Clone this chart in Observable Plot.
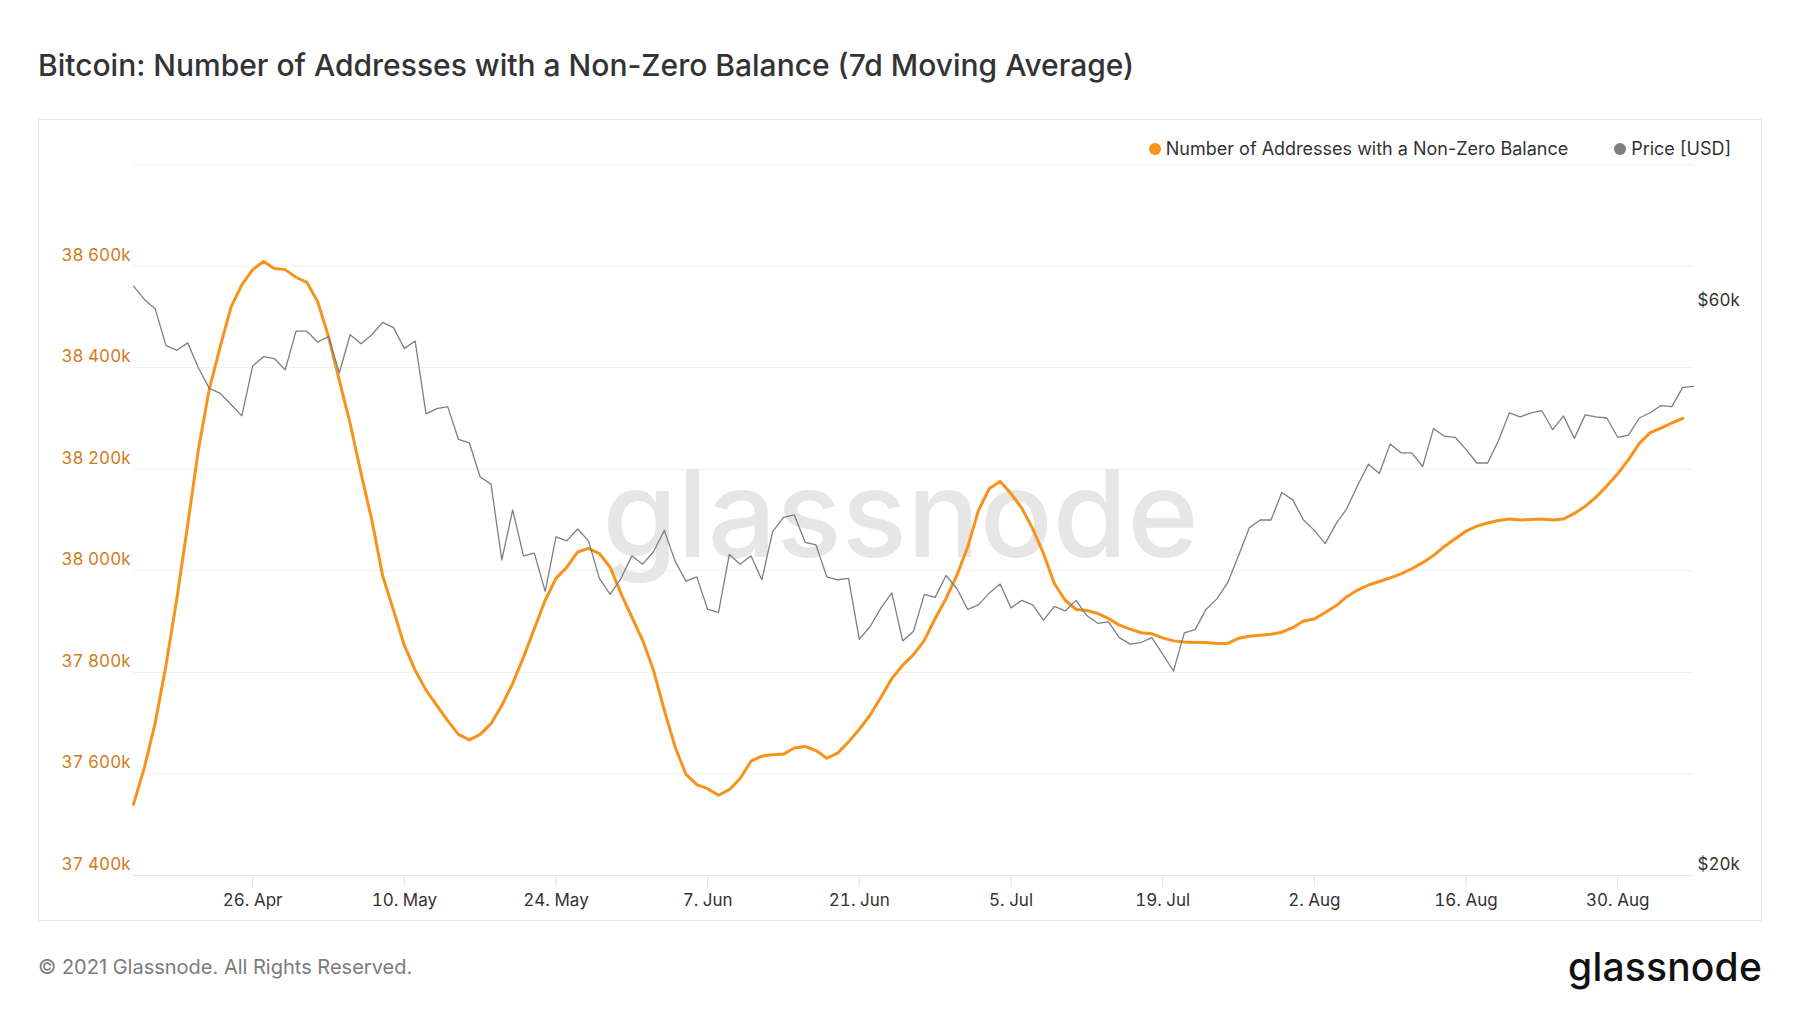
<!DOCTYPE html>
<html>
<head>
<meta charset="utf-8">
<script src="https://cdn.jsdelivr.net/npm/d3@7"></script>
<script src="https://cdn.jsdelivr.net/npm/@observablehq/plot@0.6"></script>
<style>
  html, body { margin: 0; padding: 0; background: #fff; }
  body { width: 1800px; height: 1013px; position: relative; overflow: hidden; font-family: Inter, "Noto Sans", sans-serif; }
  #title { position: absolute; left: 38px; top: 45px; font-size: 30px; line-height: 40px; color: #333; font-weight: 500; white-space: nowrap; }
  #box { position: absolute; left: 38px; top: 119px; width: 1722px; height: 800px; border: 1px solid #e6e6e6; }
  #chart { position: absolute; left: 38px; top: 119px; }
  #legend { position: absolute; right: 69px; top: 137px; font-size: 18px; line-height: 23px; color: #333; display: flex; gap: 46px; white-space: nowrap; }
  #legend .item { display: flex; align-items: center; }
  #legend .dot { width: 12px; height: 12px; border-radius: 50%; margin-right: 5px; display: inline-block; }
  #footer { position: absolute; left: 38px; top: 954px; font-size: 20px; line-height: 26px; color: #7b7b7b; white-space: nowrap; }
  #logo { position: absolute; right: 38px; top: 943px; font-size: 39px; line-height: 48px; color: #111; font-weight: 500; letter-spacing: 0.2px; }
</style>
</head>
<body>
<div id="title">Bitcoin: Number of Addresses with a Non-Zero Balance (7d Moving Average)</div>
<div id="box"></div>
<div id="chart"></div>
<div id="legend"></div>
<div id="footer">© 2021 Glassnode. All Rights Reserved.</div>
<div id="logo">glassnode</div>
<script>
// ---------------- data ----------------
const startDay = "2021-04-15";
const endDay = "2021-09-06";

// Number of addresses with a non-zero balance (7d MA), thousands, daily from 15 Apr 2021 to 5 Sep 2021
const addresses = [
  37540, 37612, 37700, 37814, 37945, 38090, 38240, 38358, 38441, 38519,
  38563, 38593, 38609, 38595, 38593, 38578, 38568, 38530, 38461, 38375,
  38290, 38192, 38100, 37990, 37922, 37853, 37804, 37765, 37735, 37705,
  37678, 37667, 37678, 37699, 37735, 37778, 37830, 37886, 37942, 37985,
  38007, 38037, 38044, 38034, 38007, 37955, 37909, 37863, 37804, 37725,
  37653, 37599, 37579, 37571, 37558, 37569, 37591, 37625, 37635, 37638,
  37639, 37651, 37654, 37646, 37631, 37641, 37663, 37688, 37716, 37751,
  37788, 37814, 37835, 37863, 37906, 37945, 37991, 38047, 38119, 38162,
  38176, 38152, 38123, 38083, 38034, 37975, 37942, 37924, 37922, 37916,
  37906, 37893, 37885, 37878, 37876, 37868, 37862, 37860, 37859, 37859,
  37857, 37857, 37867, 37871, 37873, 37875, 37879, 37888, 37901, 37905,
  37918, 37931, 37949, 37962, 37972, 37979, 37986, 37994, 38004, 38016,
  38030, 38048, 38063, 38078, 38088, 38094, 38099, 38102, 38100, 38101,
  38102, 38100, 38102, 38113, 38127, 38145, 38167, 38191, 38219, 38251,
  38272, 38281, 38291, 38300
];

// Price [USD], thousands, daily from 15 Apr 2021 to 6 Sep 2021
const price = [
  63.1, 61.5, 60.4, 56.2, 55.7, 56.5, 53.8, 51.7, 51.2, 50.1, 49.0, 54.0, 55.0, 54.8, 53.6, 57.8,
  57.8, 56.6, 57.2, 53.3, 57.4, 56.4, 57.4, 58.8, 58.2, 55.9, 56.7, 49.2, 49.7, 49.9, 46.8, 46.5,
  43.5, 42.9, 37.0, 40.8, 37.3, 37.5, 34.8, 38.7, 38.4, 39.3, 38.4, 35.7, 34.6, 35.7, 37.3,
  36.7, 37.6, 39.2, 36.9, 35.5, 35.8, 33.6, 33.4, 37.4, 36.7, 37.3, 35.6, 39.1, 40.2, 40.4,
  38.3, 38.1, 35.8, 35.6, 35.7, 31.7, 32.5, 33.7, 34.7, 31.6, 32.2, 34.6, 34.4, 35.9, 35.0,
  33.6, 33.9, 34.7, 35.3, 33.7, 34.2, 33.9, 32.9, 33.8, 33.5, 34.2, 33.2, 32.7, 32.8, 31.8,
  31.4, 31.5, 31.8, 30.8, 29.8, 32.1, 32.3, 33.6, 34.3, 35.4, 37.3, 39.4, 40.0, 40.0, 42.2, 41.6,
  40.0, 39.2, 38.2, 39.7, 40.9, 42.8, 44.6, 43.8, 46.4, 45.6, 45.6, 44.4, 47.8, 47.1, 47.0,
  45.9, 44.7, 44.7, 46.7, 49.3, 48.9, 49.3, 49.5, 47.7, 49.0, 46.9, 49.1, 48.9, 48.8, 47.0, 47.2,
  48.8, 49.3, 50.0, 49.9, 51.8, 51.9
];

const leftTicks = [37400, 37600, 37800, 38000, 38200, 38400, 38600];
const gridValues = [37400, 37600, 37800, 38000, 38200, 38400, 38600, 38800];
const priceTicks = [20, 60];
const priceDomain = [20, 80];
const xTickDays = ["2021-04-26", "2021-05-10", "2021-05-24", "2021-06-07", "2021-06-21", "2021-07-05", "2021-07-19", "2021-08-02", "2021-08-16", "2021-08-30"];

const seriesNames = ["Number of Addresses with a Non-Zero Balance", "Price [USD]"];
const seriesColors = ["#f7931a", "#7f7f7f"];

// ---------------- build ----------------
const dates = d3.utcDay.range(new Date(startDay), d3.utcDay.offset(new Date(endDay), 1));
const yDomain = [37400, 38800];
// map price (log scale) onto the left-axis domain
const lp = d3.scaleLog().domain(priceDomain).range(yDomain);
const addrData = addresses.map((v, i) => ({date: dates[i], value: v}));
const priceData = price.map((v, i) => ({date: dates[i], value: lp(v)}));

const fmtLeft = v => `${Math.floor(v / 1000)} ${String(v % 1000).padStart(3, "0")}k`;

const chart = Plot.plot({
  width: 1724,
  height: 802,
  marginLeft: 95,
  marginRight: 69,
  marginTop: 45,
  marginBottom: 46,
  style: {fontFamily: "Inter, 'Noto Sans', sans-serif", fontSize: "17px", background: "transparent", overflow: "visible", color: "#333"},
  x: {type: "utc", domain: [new Date(startDay), new Date(endDay)]},
  y: {domain: yDomain},
  marks: [
    Plot.gridY(gridValues, {stroke: "#efefef", strokeOpacity: 1}),
    Plot.text(["glassnode"], {frameAnchor: "middle", dx: -13, dy: -2, fontSize: 121, fontWeight: 500, fill: "#e6e6e6", text: d => d}),
    Plot.ruleY([37400], {stroke: "#e2e2e2"}),
    Plot.axisX({ticks: xTickDays.map(d => new Date(d)), tickFormat: d3.utcFormat("%-d. %b"), tickSize: 12, tickPadding: 6, stroke: "#e2e2e2", strokeOpacity: 1, fill: "#333", label: null}),
    Plot.axisY({anchor: "left", ticks: leftTicks, tickFormat: fmtLeft, tickSize: 0, tickPadding: 3, dy: -11, fill: "#cf7d1c", label: null}),
    Plot.axisY({anchor: "right", ticks: priceTicks.map(p => lp(p)), tickFormat: (v, i) => "$" + priceTicks[i] + "k", tickSize: 0, tickPadding: 4, dy: -11, fill: "#333", label: null}),
    Plot.line(addrData, {x: "date", y: "value", stroke: seriesColors[0], strokeWidth: 3, curve: "linear"}),
    Plot.line(priceData, {x: "date", y: "value", stroke: seriesColors[1], strokeWidth: 1.3, curve: "linear"})
  ]
});
document.getElementById("chart").appendChild(chart);

const legend = document.getElementById("legend");
seriesNames.forEach((name, i) => {
  const item = document.createElement("div");
  item.className = "item";
  const dot = document.createElement("span");
  dot.className = "dot";
  dot.style.background = seriesColors[i];
  item.appendChild(dot);
  item.appendChild(document.createTextNode(name));
  legend.appendChild(item);
});
</script>
</body>
</html>
